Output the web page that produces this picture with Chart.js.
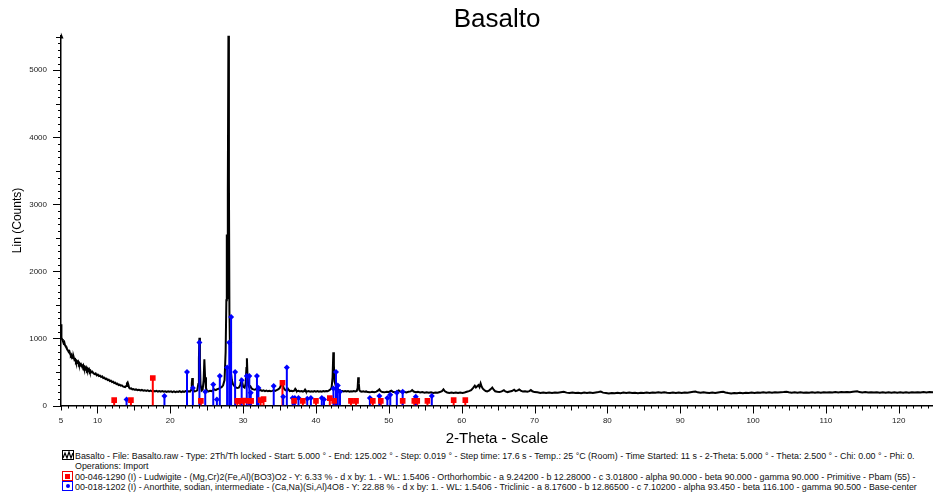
<!DOCTYPE html>
<html>
<head>
<meta charset="utf-8">
<script src="https://cdn.jsdelivr.net/npm/chart.js@4.4.1/dist/chart.umd.min.js"></script>
<style>
  body { margin: 0; background: #fff; overflow: hidden; }
  #wrap { position: relative; width: 933px; height: 495px; overflow: hidden; font-family: "Liberation Sans", Arial, sans-serif; }
  #chart { position: absolute; left: 0; top: 0; }
  #title { position: absolute; left: 397px; width: 200px; top: 3px; text-align: center; font-size: 26px; line-height: 30px; color: #000; }
  .leg { position: absolute; left: 62px; font-size: 8.9px; color: #111; white-space: nowrap; line-height: 10px; }
  .ico { display: inline-block; width: 9px; height: 8px; border: 1px solid; vertical-align: -1px; margin-right: 2px; position: relative; }
  .ico i { position: absolute; }
</style>
</head>
<body>
<div id="wrap">
  <canvas id="chart" width="937" height="450"></canvas>
  <div id="title">Basalto</div>
  <div class="leg" style="top:450px"><svg width="12" height="10" style="vertical-align:-1px;margin-right:1px"><rect x="0.5" y="0.5" width="11" height="9" fill="none" stroke="#000"/><polyline points="1,8 3,3 5,8 7,2 9,8 11,3" fill="none" stroke="#000" stroke-width="1.2"/></svg>Basalto - File: Basalto.raw - Type: 2Th/Th locked - Start: 5.000 ° - End: 125.002 ° - Step: 0.019 ° - Step time: 17.6 s - Temp.: 25 °C (Room) - Time Started: 11 s - 2-Theta: 5.000 ° - Theta: 2.500 ° - Chi: 0.00 ° - Phi: 0.</div>
  <div class="leg" style="top:461px;left:75px">Operations: Import</div>
  <div class="leg" style="top:471px"><span class="ico" style="border-color:#e00"><i style="left:2px;top:1.5px;width:5px;height:5px;background:#f00"></i></span>00-046-1290 (I) - Ludwigite - (Mg,Cr)2(Fe,Al)(BO3)O2 - Y: 6.33 % - d x by: 1. - WL: 1.5406 - Orthorhombic - a 9.24200 - b 12.28000 - c 3.01800 - alpha 90.000 - beta 90.000 - gamma 90.000 - Primitive - Pbam (55) -</div>
  <div class="leg" style="top:481px"><span class="ico" style="border-color:#00f"><i style="left:2.5px;top:2px;width:4px;height:4px;border-radius:2px;background:#00f"></i></span>00-018-1202 (I) - Anorthite, sodian, intermediate - (Ca,Na)(Si,Al)4O8 - Y: 22.88 % - d x by: 1. - WL: 1.5406 - Triclinic - a 8.17600 - b 12.86500 - c 7.10200 - alpha 93.450 - beta 116.100 - gamma 90.500 - Base-center</div>
</div>
<script>
// ---------- DATA ----------
// measured scan, [2-theta, counts], read off the picture in three stretches
const scanLow = [
  [5.0,1210],[5.04,1120],[5.08,1010],[5.15,990],[5.25,965],[5.35,930],[5.45,945],[5.55,900],[5.65,880],[5.75,870],
  [5.85,835],[5.95,820],[6.05,800],[6.15,810],[6.25,770],[6.35,745],[6.45,760],[6.55,715],[6.65,705],[6.75,720],
  [6.85,680],[6.95,690],[7.05,650],[7.15,665],[7.25,640],[7.35,655],[7.45,615],[7.55,630],[7.65,600],[7.75,615],
  [7.85,590],[7.95,580],[8.05,600],[8.15,560],[8.25,575],[8.35,545],[8.45,565],[8.55,530],[8.65,550],[8.75,520],
  [8.85,540],[8.95,505],[9.05,520],[9.15,495],[9.3,505],[9.45,480],[9.6,470],[9.75,480],[9.9,450],[10.05,460],
  [10.2,440],[10.35,445],[10.5,425],[10.65,435],[10.8,410],[10.95,415],[11.1,395],[11.25,400],[11.4,380],[11.55,385],
  [11.7,365],[11.85,370],[12.0,350],[12.15,355],[12.3,335],[12.45,340],[12.6,320],[12.75,325],[12.9,305],[13.05,310],
  [13.2,295],[13.35,300],[13.5,285],[13.65,280],[13.8,275],[13.95,290],[14.05,330],[14.15,345],[14.25,310],[14.35,265],
  [14.5,250],[14.65,255],[14.8,240],[14.95,245],[15.1,235],[15.3,240],[15.5,230],[15.7,235],[15.9,225],[16.1,232],
  [16.3,222],[16.5,228],[16.7,218],[16.9,225],[17.1,215],[17.3,222],[17.5,212],[17.7,220],[17.9,210],[18.1,218],
  [18.3,208],[18.5,215],[18.7,205],[18.9,214],[19.1,206],[19.3,212],[19.5,202],[19.7,210],[19.9,204]
];
const scanPeaks = [
  [20.1,212],[20.3,200],[20.5,210],[20.7,198],[20.9,208],[21.1,202],[21.3,214],[21.5,200],[21.7,210],[21.9,204],
  [22.1,215],[22.3,205],[22.5,212],[22.7,208],[22.85,230],[22.95,330],[23.02,410],[23.1,300],[23.2,225],[23.35,210],
  [23.5,215],[23.7,225],[23.85,320],[23.93,700],[24.0,1010],[24.07,650],[24.15,320],[24.3,225],[24.45,240],[24.58,380],
  [24.68,690],[24.78,420],[24.9,260],[25.05,215],[25.25,210],[25.45,220],[25.65,215],[25.85,225],[26.05,240],[26.25,230],
  [26.45,245],[26.65,250],[26.85,265],[27.05,275],[27.25,300],[27.45,380],[27.6,800],[27.7,1570],[27.76,2550],[27.82,1600],
  [27.9,3200],[27.98,5520],[28.05,3400],[28.12,1400],[28.2,800],[28.3,520],[28.45,380],[28.6,320],[28.8,290],[29.0,270],
  [29.2,260],[29.4,265],[29.6,300],[29.75,380],[29.85,360],[30.0,280],[30.2,265],[30.35,330],[30.45,560],[30.52,705],
  [30.6,450],[30.7,300],[30.85,270],[31.0,285],[31.2,250],[31.4,240],[31.6,235],[31.8,245],[32.0,240],[32.2,225],
  [32.4,230],[32.6,218],[32.8,225],[33.0,215],[33.2,222],[33.4,212],[33.6,220],[33.8,214],[34.0,218],[34.2,225],
  [34.4,218],[34.6,228],[34.8,240],[35.0,255],[35.15,290],[35.3,310],[35.45,300],[35.6,255],[35.8,230],[36.0,220],
  [36.15,250],[36.25,235],[36.4,215],[36.6,220],[36.8,212],[37.0,220],[37.15,248],[37.25,230],[37.4,212],[37.6,218],
  [37.8,210],[38.0,216],[38.2,208],[38.4,218],[38.5,235],[38.6,215],[38.8,208],[39.0,214],[39.2,206],[39.4,212],
  [39.6,205],[39.8,215],[40.0,207],[40.2,214],[40.4,205],[40.6,212],[40.8,206],[41.0,214],[41.2,208],[41.4,216],
  [41.6,212],[41.8,225],[42.0,240],[42.15,270],[42.28,420],[42.38,795],[42.46,600],[42.55,360],[42.7,300],[42.85,265],
  [43.0,245],[43.2,230],[43.4,220],[43.6,215],[43.8,210],[44.0,216],[44.2,208],[44.4,214],[44.6,206],[44.8,212],
  [45.0,208],[45.2,215],[45.4,210],[45.6,218],[45.72,260],[45.8,420],[45.88,330],[45.96,230],[46.1,212],[46.3,205],
  [46.5,212],[46.7,204],[46.9,210]
];
const scanHigh = [
  [47.1,200],[47.4,196],[47.7,204],[48.0,198],[48.3,206],[48.55,225],[48.7,242],[48.85,215],[49.1,200],[49.4,196],
  [49.7,204],[50.0,200],[50.2,215],[50.35,222],[50.55,205],[50.8,198],[51.1,206],[51.35,225],[51.55,210],[51.8,198],
  [52.1,203],[52.4,196],[52.7,204],[53.0,210],[53.2,230],[53.4,208],[53.7,198],[54.0,203],[54.3,195],[54.6,200],
  [54.9,192],[55.2,198],[55.5,190],[55.8,196],[56.1,188],[56.4,195],[56.7,192],[57.0,200],[57.3,215],[57.5,240],
  [57.7,212],[58.0,195],[58.3,188],[58.6,195],[58.9,186],[59.2,192],[59.5,185],[59.8,192],[60.1,188],[60.4,195],
  [60.7,205],[61.0,215],[61.3,230],[61.55,260],[61.8,295],[61.95,270],[62.1,285],[62.3,305],[62.45,275],[62.6,330],
  [62.75,280],[62.9,250],[63.1,230],[63.3,215],[63.5,210],[63.75,222],[64.0,245],[64.2,268],[64.4,235],[64.6,212],
  [64.9,205],[65.2,200],[65.5,210],[65.8,228],[66.0,210],[66.3,200],[66.6,208],[66.9,215],[67.2,235],[67.4,215],
  [67.7,225],[67.9,240],[68.1,222],[68.4,208],[68.7,212],[69.0,205],[69.3,215],[69.5,232],[69.7,212],[70.0,200],
  [70.4,196],[70.8,188],[71.2,195],[71.6,185],[72.0,192],[72.4,186],[72.8,195],[73.2,190],[73.6,198],[74.0,205],
  [74.4,192],[74.8,186],[75.2,193],[75.6,185],[76.0,190],[76.4,184],[76.8,192],[77.2,186],[77.6,194],[78.0,188],
  [78.4,195],[78.8,200],[79.1,208],[79.4,192],[79.8,186],[80.2,180],[80.6,188],[81.0,182],[81.4,190],[81.8,184],
  [82.2,192],[82.6,186],[83.0,193],[83.4,185],[83.8,191],[84.2,184],[84.6,190],[85.0,186],[85.4,194],[85.8,188],
  [86.2,195],[86.6,189],[87.0,196],[87.4,190],[87.8,197],[88.2,191],[88.6,186],[89.0,193],[89.4,187],[89.8,194],
  [90.2,188],[90.6,195],[91.0,190],[91.4,198],[91.8,204],[92.1,208],[92.4,196],[92.8,190],[93.2,197],[93.6,191],
  [94.0,185],[94.4,192],[94.8,186],[95.2,194],[95.6,202],[95.9,206],[96.2,194],[96.6,186],[97.0,180],[97.4,188],
  [97.8,182],[98.2,190],[98.6,184],[99.0,191],[99.4,186],[99.8,193],[100.2,187],[100.6,194],[101.0,189],[101.4,196],
  [101.8,190],[102.2,196],[102.6,191],[103.0,198],[103.4,193],[103.8,199],[104.2,200],[104.6,206],[104.9,198],[105.3,192],
  [105.7,197],[106.1,190],[106.5,196],[106.9,189],[107.3,195],[107.7,190],[108.1,197],[108.5,191],[108.9,198],[109.3,192],
  [109.7,199],[110.1,193],[110.5,198],[110.9,194],[111.3,200],[111.7,195],[112.1,202],[112.5,196],[112.9,203],[113.3,198],
  [113.7,205],[114.0,210],[114.3,212],[114.6,200],[115.0,195],[115.4,201],[115.8,194],[116.2,199],[116.6,193],[117.0,198],
  [117.4,192],[117.8,197],[118.2,191],[118.6,196],[119.0,190],[119.4,197],[119.8,191],[120.2,196],[120.6,190],[121.0,197],
  [121.4,192],[121.8,198],[122.2,193],[122.6,199],[123.0,194],[123.4,200],[123.8,195],[124.2,201],[124.6,196],[125.0,200]
];

// reference patterns (stick positions and heights)
const ludwigitePos = [12.3, 14.6, 17.6, 24.2, 29.2, 29.6, 30.1, 30.8, 31.1, 32.4, 32.8, 35.4, 37.0, 38.2, 40.0, 41.9, 42.5, 44.8, 45.5, 47.8, 48.9, 51.9, 53.5, 53.9, 55.3, 58.9, 60.5];
const ludwigiteInt = [80, 80, 410, 70, 70, 70, 75, 70, 70, 80, 95, 340, 70, 70, 70, 110, 70, 70, 70, 70, 70, 70, 70, 70, 70, 80, 80];

const anorthitePos = [14.0, 19.2, 22.3, 23.1, 24.0, 24.8, 25.9, 26.4, 26.8, 27.8, 28.1, 28.35, 28.9, 29.8, 30.5, 30.85, 31.05, 31.9, 32.1, 34.2, 35.5, 36.0, 36.8, 37.1, 37.6, 38.8, 39.3, 40.8, 41.1, 42.4, 42.75, 43.0, 43.3, 47.4, 48.7, 49.8, 50.2, 51.1, 51.9, 53.7, 55.9];
const anorthiteInt = [90, 140, 500, 260, 940, 205, 315, 90, 440, 565, 940, 1320, 500, 375, 440, 440, 190, 440, 260, 290, 130, 565, 110, 110, 110, 100, 110, 110, 90, 255, 500, 300, 205, 110, 140, 110, 160, 190, 205, 130, 140];

const xLabels = [5, 10, 20, 30, 40, 50, 60, 70, 80, 90, 100, 110, 120];

// ---------- HELPERS ----------
function sticks(pos, h) {
  let out = [];
  pos.forEach((x, i) => {
    out.push({ x: x, y: 0 });
    out.push({ x: x, y: h[i] });
    out.push({ x: x, y: null });
  });
  return out;
}
function tops(pos, h) {
  return pos.map((x, i) => ({ x: x, y: h[i] }));
}

const scan = scanLow.concat(scanPeaks, scanHigh).map(p => ({ x: p[0], y: p[1] }));

// ---------- TICK MARKS + ARROW ----------
const tickPlugin = {
  id: "ticks",
  afterDraw(c) {
    const ctx = c.ctx, xs = c.scales.x, ys = c.scales.y;
    const b = c.chartArea.bottom, l = c.chartArea.left;
    ctx.save();
    ctx.strokeStyle = "#000";
    ctx.lineWidth = 1;
    ctx.beginPath();
    for (let v = 5; v <= 124; v++) {
      let px = Math.round(xs.getPixelForValue(v)) + 0.5;
      let len = v % 10 === 0 ? 8 : (v % 5 === 0 ? 5 : 3);
      ctx.moveTo(px, b);
      ctx.lineTo(px, b + len);
    }
    for (let v = 0; v <= 5500; v += 100) {
      let py = Math.round(ys.getPixelForValue(v)) + 0.5;
      let len = v % 1000 === 0 ? 8 : (v % 500 === 0 ? 5 : 3);
      ctx.moveTo(l, py);
      ctx.lineTo(l - len, py);
    }
    ctx.stroke();
    // arrow on top of the y axis
    let t = c.chartArea.top;
    ctx.fillStyle = "#000";
    ctx.beginPath();
    ctx.moveTo(l, t - 3);
    ctx.lineTo(l + 2.5, t + 3);
    ctx.lineTo(l - 0.5, t + 3);
    ctx.closePath();
    ctx.fill();
    ctx.restore();
  }
};

// ---------- CHART ----------
new Chart(document.getElementById("chart"), {
  type: "scatter",
  data: {
    datasets: [
      {
        label: "Basalto",
        data: scan,
        showLine: true,
        borderColor: "#000",
        borderWidth: 2,
        pointRadius: 0,
        order: 3
      },
      {
        label: "Ludwigite",
        data: sticks(ludwigitePos, ludwigiteInt),
        showLine: true,
        borderColor: "#f00",
        borderWidth: 2,
        pointRadius: 0,
        order: 2
      },
      {
        label: "Anorthite",
        data: sticks(anorthitePos, anorthiteInt),
        showLine: true,
        borderColor: "#00f",
        borderWidth: 2,
        pointRadius: 0,
        order: 1
      },
      {
        label: "Ludwigite tops",
        data: tops(ludwigitePos, ludwigiteInt),
        pointStyle: "rect",
        pointRadius: 4,
        backgroundColor: "#f00",
        borderColor: "#f00",
        borderWidth: 0,
        order: 0
      },
      {
        label: "Anorthite tops",
        data: tops(anorthitePos, anorthiteInt),
        pointStyle: "rectRot",
        pointRadius: 3,
        backgroundColor: "#00f",
        borderColor: "#00f",
        borderWidth: 0,
        order: 0
      }
    ]
  },
  options: {
    responsive: false,
    animation: false,
    layout: { padding: { left: 0, right: 0, top: 35.4, bottom: 0 } },
    plugins: {
      legend: { display: false },
      tooltip: { enabled: false },
      title: { display: false }
    },
    scales: {
      x: {
        type: "linear",
        min: 5,
        max: 124.7,
        grid: { display: false, drawTicks: false },
        border: { display: true, color: "#000", width: 1.5 },
        ticks: {
          stepSize: 1,
          autoSkip: false,
          maxRotation: 0,
          padding: 10,
          color: "#222",
          font: { family: "Liberation Sans", size: 8 },
          callback: v => xLabels.includes(v) ? String(v) : ""
        },
        title: {
          display: true,
          text: "2-Theta - Scale",
          color: "#000",
          font: { family: "Liberation Sans", size: 15 },
          padding: { top: 0, bottom: 2 }
        },
        afterFit: s => { s.height = 44.5; s.paddingLeft = 0; s.paddingRight = 0; }
      },
      y: {
        min: 0,
        max: 5520,
        grid: { display: false, drawTicks: false },
        border: { display: true, color: "#000", width: 1.5 },
        ticks: {
          stepSize: 100,
          autoSkip: false,
          padding: 14,
          color: "#222",
          font: { family: "Liberation Sans", size: 8 },
          callback: v => v % 1000 === 0 ? String(v) : ""
        },
        title: {
          display: true,
          text: "Lin (Counts)",
          color: "#000",
          font: { family: "Liberation Sans", size: 12 },
          padding: { top: 10, bottom: 0 }
        },
        afterFit: s => { s.width = 61; s.paddingTop = 0; s.paddingBottom = 0; }
      }
    }
  },
  plugins: [tickPlugin]
});
</script>
</body>
</html>
